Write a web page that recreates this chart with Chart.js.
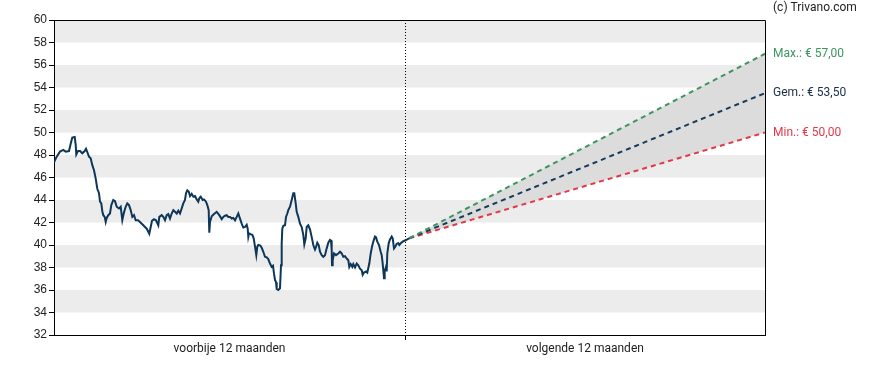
<!DOCTYPE html>
<html lang="nl">
<head>
<meta charset="UTF-8">
<title>Koersverwachting</title>
<script src="https://cdn.jsdelivr.net/npm/chart.js"></script>
<style>
    body { margin: 0; background: #ffffff; }
    #wrap { width: 888px; height: 370px; }
</style>
</head>
<body>
<div id="wrap"><canvas id="chart" width="888" height="370"></canvas></div>
<script>
// days relative to today (0), past prices in euro
const pastDays = [
    -351, -348.3, -345, -341.7, -339.3, -336, -334.3, -332.7, -330.3, -329.3, -328.7, -327, -325, -322.7, -320.3, -319, -317.7, -316, -314.3, -312.7,
    -311, -309.3, -307.7, -306, -305, -303.7, -302.7, -301.7, -300.3, -299.3, -298.3, -296.7, -295, -293.7, -291.7, -290, -288.3, -286, -284.3, -282.7,
    -281, -279.3, -277.7, -276, -274.3, -272.7, -271, -269.3, -267, -265,
    -261.7, -258.3, -255.7, -254.3, -253, -251, -249, -246.7, -245.7, -243.3, -241.7, -240, -238.3, -236.7, -235, -233.3, -231.7, -230, -228.3, -226.7,
    -225, -223.3, -221.7, -220, -219, -217.7, -216.3, -215, -213.3, -211.7, -210, -208.3, -206.7, -205.7, -204.3, -202.3, -201, -199, -197.7, -196.3,
    -195.7, -195, -193.3, -191, -188.3, -185.7, -183.3, -181.7,
    -180, -178.3, -176.7, -175, -173.3, -171.7, -170, -168.3, -166.7, -165, -163.3, -161.7, -160, -158.3, -157.3, -156.7, -156, -154, -152.7, -151.3,
    -150, -148.7, -147.7, -146.7, -144.7, -143.3, -141.7, -140, -138.3, -136.7, -135, -133.3, -132, -131, -130, -129, -128.3, -126.7, -125, -124,
    -123.3, -122.7, -121.7, -120, -119, -117.7, -116.7, -115, -113.3, -111.7, -110.7, -109.3, -108.3, -106.7, -105, -103.3, -101.7, -100.7, -99.3, -98.3,
    -96.7,
    -95, -93.3, -91.7, -90, -89, -87.7, -86.3, -85, -83.3, -81.7, -80, -78.3, -76.7, -75, -74, -73.3, -73, -72.3, -71, -69,
    -66.7, -65, -63.3, -61.7, -60, -58.3, -56.7, -55.7, -54.3, -52.7, -51.7, -50, -48.3, -46.7, -45, -43.3, -42.3, -41, -39, -37.7,
    -35.7, -34.3, -33, -31.7, -30, -29, -27.7, -26, -24.3, -23.3, -22.3, -21.7, -21, -20.3, -19, -18.3, -17.7, -16.3, -15, -13.3,
    -12.3, -11, -9.7, -8.3, -6.7, -5.7, -4.3, -2.3, 0, 2.3, 4.3
];
const pastPrices = [
    47.35, 47.85, 48.3, 48.45, 48.3, 48.35, 49.0, 49.55, 49.6, 48.9, 48.05, 48.35, 48.35, 48.15, 48.35, 48.55, 48.25, 47.85, 47.7, 47.1,
    46.65, 45.9, 45.0, 44.6, 43.85, 43.7, 43.0, 42.65, 42.5, 42.05, 42.4, 42.65, 42.8, 43.55, 44.0, 43.9, 43.4, 43.25, 43.4, 42.2,
    42.9, 43.4, 43.7, 43.55, 43.1, 42.5, 42.65, 42.2, 42.2, 42.05,
    41.75, 41.45, 41.0, 41.6, 42.15, 42.3, 42.2, 41.75, 42.5, 42.65, 42.5, 42.2, 42.65, 42.75, 42.35, 42.8, 43.1, 42.95, 42.8, 43.05,
    42.8, 43.25, 43.7, 44.0, 44.6, 44.85, 44.75, 44.35, 44.55, 44.3, 44.35, 44.05, 43.85, 44.15, 44.3, 44.0, 44.05, 43.85, 43.55, 43.1,
    41.1, 42.05, 42.55, 42.75, 42.95, 42.65, 42.3, 42.5,
    42.6, 42.65, 42.5, 42.5, 42.35, 42.4, 42.2, 42.5, 42.8, 42.35, 41.9, 41.55, 41.6, 41.8, 41.45, 40.75, 41.05, 40.95, 40.9, 40.6,
    39.85, 39.1, 39.85, 40.0, 39.95, 39.75, 39.4, 38.95, 38.9, 38.75, 38.35, 38.05, 38.15, 37.45, 36.9, 36.7, 36.1, 36.0, 36.15, 38.2,
    40.15, 41.45, 41.7, 41.75, 42.5, 42.8, 43.1, 43.4, 44.0, 44.6, 44.6, 43.7, 42.95, 42.5, 41.9, 41.6, 40.9, 40.05, 40.6, 41.6,
    41.75,
    41.4, 40.7, 40.0, 39.6, 39.8, 40.2, 40.0, 39.4, 39.1, 38.95, 39.1, 39.7, 40.2, 40.45, 40.4, 39.55, 38.2, 38.65, 39.25, 39.1,
    39.25, 39.4, 39.25, 38.95, 39.0, 38.8, 38.65, 38.05, 38.3, 38.05, 38.3, 38.0, 38.35, 38.2, 37.9, 37.75, 37.35, 37.55, 37.65, 37.55,
    38.35, 39.25, 39.85, 40.3, 40.75, 40.7, 40.3, 40.0, 39.4, 39.1, 38.35, 37.75, 37.05, 37.65, 38.05, 37.65, 39.25, 40.15, 40.5, 40.75,
    40.6, 39.7, 39.85, 40.1, 40.15, 40.0, 40.15, 40.3, 40.4, 40.5, 40.6
];

// forecast: start -> end of next 12 months
const forecastDays = [4.3, 360];
const forecastMax = [40.6, 57.0];
const forecastAvg = [40.6, 53.5];
const forecastMin = [40.6, 50.0];
const targetLabels = ['Max.: € 57,00', 'Gem.: € 53,50', 'Min.: € 50,00'];
const targetValues = [57.0, 53.5, 50.0];
const targetColors = ['#3c9460', '#1a2e48', '#e3384a'];
const periodLabels = ['voorbije 12 maanden', 'volgende 12 maanden'];
const xRange = [-351, 360];
const yTicks = [32, 60, 2];

function toPoints(xs, ys) {
    const out = [];
    for (let i = 0; i < Math.min(xs.length, ys.length); i++) out.push({ x: xs[i], y: ys[i] });
    return out;
}

// grey bands, dotted "today" line, frame and side labels
const bandsPlugin = {
    id: 'bands',
    beforeDraw(chart) {
        const { ctx, chartArea: a, scales: { x, y } } = chart;
        ctx.save();
        ctx.fillStyle = '#ececec';
        for (let v = yTicks[0] + 2; v < yTicks[1]; v += 4) {
            const top = y.getPixelForValue(v + 2);
            const bot = y.getPixelForValue(v);
            ctx.fillRect(a.left, top, a.right - a.left, bot - top);
        }
        const x0 = Math.round(x.getPixelForValue(0)) + 0.5;
        ctx.strokeStyle = '#000';
        ctx.lineWidth = 1;
        ctx.setLineDash([1, 2]);
        ctx.beginPath();
        ctx.moveTo(x0, a.top);
        ctx.lineTo(x0, a.bottom);
        ctx.stroke();
        ctx.restore();
    },
    afterDraw(chart) {
        const { ctx, chartArea: a, scales: { y } } = chart;
        ctx.save();
        ctx.strokeStyle = '#000';
        ctx.lineWidth = 1;
        ctx.beginPath();
        ctx.moveTo(Math.round(a.left) + 0.5, Math.round(a.top) + 0.5);
        ctx.lineTo(Math.round(a.right) + 0.5, Math.round(a.top) + 0.5);
        ctx.lineTo(Math.round(a.right) + 0.5, Math.round(a.bottom) + 0.5);
        ctx.stroke();

        ctx.font = '12px Roboto';
        ctx.textBaseline = 'middle';
        ctx.textAlign = 'left';
        for (let i = 0; i < targetLabels.length; i++) {
            ctx.fillStyle = targetColors[i];
            ctx.fillText(targetLabels[i], a.right + 8, y.getPixelForValue(targetValues[i]));
        }
        ctx.fillStyle = '#222';
        ctx.fillText('(c) Trivano.com', a.right + 8, 8);
        ctx.restore();
    }
};

const dash = [5, 4];

new Chart(document.getElementById('chart'), {
    type: 'line',
    data: {
        datasets: [
            {
                data: toPoints(pastDays, pastPrices),
                borderColor: '#0d3658',
                borderWidth: 2,
                pointRadius: 0,
                tension: 0,
                fill: false
            },
            {
                data: toPoints(forecastDays, forecastMax),
                borderColor: '#3c9460',
                borderWidth: 2,
                borderDash: dash,
                pointRadius: 0,
                fill: '+2',
                backgroundColor: '#dcdcdc'
            },
            {
                data: toPoints(forecastDays, forecastAvg),
                borderColor: '#163a5c',
                borderWidth: 2,
                borderDash: dash,
                pointRadius: 0,
                fill: false
            },
            {
                data: toPoints(forecastDays, forecastMin),
                borderColor: '#e3384a',
                borderWidth: 2,
                borderDash: dash,
                pointRadius: 0,
                fill: false
            }
        ]
    },
    options: {
        responsive: false,
        animation: false,
        layout: { padding: { left: 0, right: 123, top: 20, bottom: 0 } },
        plugins: {
            legend: { display: false },
            tooltip: { enabled: false },
            filler: { drawTime: 'beforeDatasetsDraw' }
        },
        scales: {
            x: {
                type: 'linear',
                min: xRange[0],
                max: xRange[1],
                afterFit(scale) { scale.height = 35; },
                afterBuildTicks(scale) {
                    scale.ticks = [
                        { value: xRange[0] / 2 },
                        { value: 0 },
                        { value: xRange[1] / 2 }
                    ];
                },
                grid: {
                    drawOnChartArea: false,
                    tickLength: 5,
                    color: ctx => (ctx.tick && ctx.tick.value === 0 ? '#000' : 'rgba(0,0,0,0)')
                },
                border: { color: '#000', width: 1 },
                ticks: {
                    autoSkip: false,
                    maxRotation: 0,
                    padding: 2,
                    color: '#222',
                    font: { family: 'Roboto', size: 12 },
                    callback: v => (v < 0 ? periodLabels[0] : v > 0 ? periodLabels[1] : '')
                }
            },
            y: {
                min: yTicks[0],
                max: yTicks[1],
                afterFit(scale) { scale.width = 54; },
                grid: {
                    drawOnChartArea: false,
                    tickLength: 5,
                    color: '#000'
                },
                border: { color: '#000', width: 1 },
                ticks: {
                    stepSize: yTicks[2],
                    padding: 2,
                    color: '#222',
                    font: { family: 'Liberation Sans', size: 12 }
                }
            }
        }
    },
    plugins: [bandsPlugin]
});
</script>
</body>
</html>
